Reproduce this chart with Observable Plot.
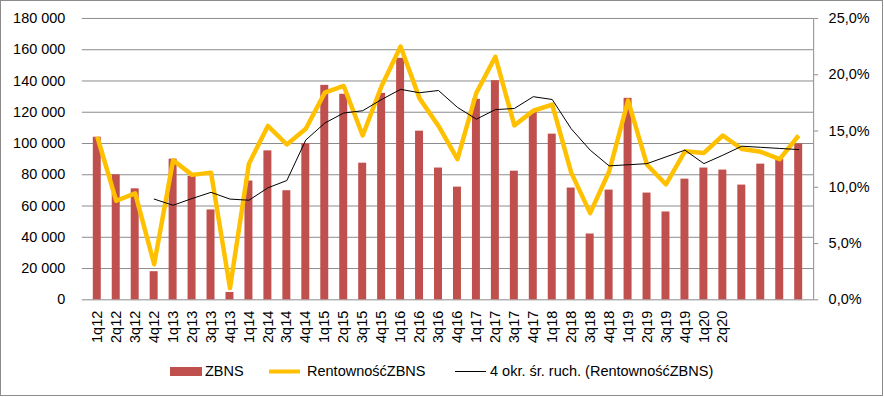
<!DOCTYPE html>
<html><head><meta charset="utf-8">
<script src="https://cdn.jsdelivr.net/npm/d3@7"></script>
<script src="https://cdn.jsdelivr.net/npm/@observablehq/plot@0.6"></script>
<style>
body{margin:0;background:#fff;font-family:"Liberation Sans",Arial,sans-serif;}
#frame{position:relative;width:881px;height:394px;border:1px solid #8c8c8c;overflow:hidden;background:#fff;}
#chart{position:absolute;left:-1px;top:-1px;}
.lg{position:absolute;top:360px;height:20px;line-height:20px;font-size:14.5px;color:#000;white-space:nowrap;}
.sw{position:absolute;}
</style>
</head><body>
<div id="frame">
  <div id="chart"></div>
  <div class="lg" style="left:169px;"><svg class="sw" width="33" height="20" style="left:0;top:0"><rect x="0" y="6" width="32" height="9" fill="#c0504d"/></svg><span style="position:absolute;left:35px;">ZBNS</span></div>
  <div class="lg" style="left:267px;"><svg class="sw" width="33" height="20" style="left:0;top:0"><line x1="1" x2="32" y1="10.5" y2="10.5" stroke="#ffc000" stroke-width="4"/></svg><span style="position:absolute;left:39px;">RentownośćZBNS</span></div>
  <div class="lg" style="left:454px;"><svg class="sw" width="33" height="20" style="left:0;top:0"><line x1="0" x2="31" y1="10.5" y2="10.5" stroke="#000" stroke-width="1"/></svg><span style="position:absolute;left:35px;">4 okr. śr. ruch. (RentownośćZBNS)</span></div>
</div>
<script>
const labels = ["1q12","2q12","3q12","4q12","1q13","2q13","3q13","4q13","1q14","2q14","3q14","4q14",
  "1q15","2q15","3q15","4q15","1q16","2q16","3q16","4q16","1q17","2q17","3q17","4q17",
  "1q18","2q18","3q18","4q18","1q19","2q19","3q19","4q19","1q20","2q20","","","",""];
const zbns = [104000, 80000, 71000, 18000, 90000, 79000, 57500, 4700, 76000, 95300, 69800, 100000,
  137200, 131500, 87400, 132100, 154500, 107900, 84300, 72100, 128300, 140200, 82300, 120000,
  106000, 71500, 42100, 70200, 128900, 68300, 56200, 77200, 84300, 83000, 73400, 86800, 89800, 99800];
const rentownosc = [14.5, 8.8, 9.46, 3.16, 12.4, 11.1, 11.3, 1.04, 12.1, 15.45, 13.8, 15.2,
  18.4, 19.0, 14.6, 19.0, 22.5, 17.9, 15.45, 12.5, 18.4, 21.6, 15.5, 16.8,
  17.35, 11.3, 7.7, 11.4, 17.7, 12.0, 10.25, 13.2, 13.05, 14.6, 13.4, 13.15, 12.5, 14.6];
const srednia = [null, null, null, 8.95, 8.4, 9.0, 9.55, 8.95, 8.85, 9.95, 10.6, 14.2,
  15.7, 16.6, 16.8, 17.8, 18.7, 18.4, 18.6, 17.1, 16.05, 16.9, 17.0, 18.05,
  17.8, 15.2, 13.3, 11.9, 12.0, 12.1, 12.7, 13.3, 12.1, 12.85, 13.65, 13.55, 13.45, 13.35];
const leftTicks = [0, 20000, 40000, 60000, 80000, 100000, 120000, 140000, 160000, 180000];
const rightTicks = [0, 5, 10, 15, 20, 25];

const k = 180000 / 25; // percent -> left scale
const rows = labels.map((l, i) => ({i, label: l, zbns: zbns[i], rent: rentownosc[i], ma: srednia[i]}));
const grid = "#8c8c8c";
const fmtL = d => d3.format(",")(d).replace(/,/g, " ");
const fmtR = p => p.toFixed(1).replace(".", ",") + "%";

const chart = Plot.plot({
  width: 884, height: 350,
  marginLeft: 82, marginRight: 69, marginTop: 18, marginBottom: 50,
  style: {fontFamily: "'Liberation Sans', Arial, sans-serif", fontSize: "14.5px", color: "#000", background: "transparent", overflow: "visible"},
  x: {type: "band", domain: d3.range(labels.length), paddingInner: 0.6, paddingOuter: 0.3},
  y: {domain: [0, 180000]},
  marks: [
    Plot.gridY(leftTicks, {stroke: grid, strokeOpacity: 1}),
    Plot.axisY(leftTicks, {anchor: "left", tickSize: 0, tickPadding: 17, tickFormat: fmtL, label: null}),
    Plot.axisY(rightTicks.map(p => p * k), {anchor: "right", tickSize: 4, tickPadding: 11, stroke: grid, tickFormat: v => fmtR(v / k), label: null}),
    Plot.frame({anchor: "right", stroke: grid}),
    Plot.barY(rows, {x: "i", y: "zbns", fill: "#c0504d"}),
    Plot.line(rows, {x: "i", y: d => d.rent * k, stroke: "#ffc000", strokeWidth: 4.5, strokeLinejoin: "round", strokeLinecap: "butt"}),
    Plot.line(rows, {x: "i", y: d => d.ma == null ? NaN : d.ma * k, stroke: "#000", strokeWidth: 1}),
    Plot.axisX({tickRotate: -90, tickSize: 0, tickPadding: 11, tickFormat: i => labels[i], label: null})
  ]
});
document.getElementById("chart").appendChild(chart);
</script>
</body></html>
